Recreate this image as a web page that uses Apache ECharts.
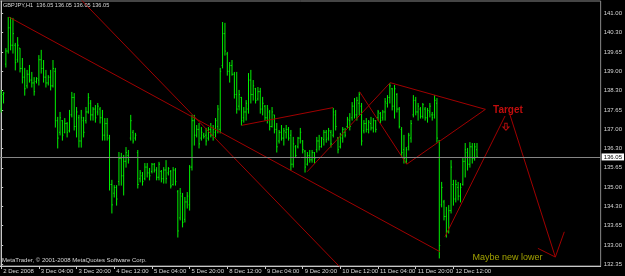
<!DOCTYPE html>
<html><head><meta charset="utf-8">
<script src="https://cdn.jsdelivr.net/npm/echarts@6/dist/echarts.min.js"></script>
<style>html,body{margin:0;padding:0;background:#000;}#c{width:625px;height:276px;}</style>
</head><body><div id="c"></div>
<script>
const headerText = 'GBPJPY,H1  136.05 136.05 136.05 136.05';
const copyrightText = 'MetaTrader, \u00A9 2001-2008 MetaQuotes Software Corp.';
const slotCount = 255;
const xTickEvery = 16;
const xTickLabels = ['2 Dec 2008','3 Dec 04:00','3 Dec 20:00','4 Dec 12:00','5 Dec 04:00','5 Dec 20:00','8 Dec 12:00','9 Dec 04:00','9 Dec 20:00','10 Dec 12:00','11 Dec 04:00','11 Dec 20:00','12 Dec 12:00'];
const yTickValues = [132.35,133.0154,133.6808,134.3462,135.0115,135.6769,136.3423,137.0077,137.6731,138.3385,139.0038,139.6692,140.3346,141.00];
const yTickLabels = ['132.35','133.00','133.65','134.30','135.00','135.65','136.30','137.00','137.65','138.30','139.00','139.65','140.30','141.00'];
const currentPrice = 136.05;

const barHigh = [138.36,138.29,139.80,140.87,140.87,140.84,139.98,140.18,139.80,139.46,
139.12,139.05,139.22,138.98,138.80,138.80,139.56,139.74,139.39,139.05,
138.87,139.05,139.39,139.12,137.43,137.60,137.32,137.39,137.25,137.67,
138.29,138.25,137.77,137.50,137.67,137.43,137.77,138.25,138.01,137.77,
137.84,137.91,137.77,137.67,137.39,137.39,136.81,135.26,135.08,135.08,
136.22,136.19,136.12,136.39,136.29,137.50,136.98,136.88,136.29,135.60,
135.53,135.84,135.84,135.67,135.84,135.84,135.70,135.88,135.60,135.70,
135.94,135.70,135.60,135.70,135.67,134.91,134.98,134.81,134.67,134.84,
135.77,137.50,137.50,137.15,137.22,137.08,136.88,137.05,137.08,137.22,
137.15,137.39,137.84,139.12,140.70,140.67,139.67,139.32,139.39,138.98,
138.98,138.36,138.12,137.77,138.01,138.94,139.05,138.70,138.43,138.46,
138.43,138.12,137.84,137.84,137.67,137.77,137.50,137.22,136.98,137.15,
137.05,137.15,137.08,136.98,136.74,136.46,136.74,137.05,136.63,136.29,
136.22,136.29,136.29,136.22,136.74,136.81,136.74,136.98,136.98,137.05,
136.98,137.74,137.67,136.74,136.88,137.08,137.05,137.43,137.56,137.94,
138.08,138.12,138.29,137.91,137.32,137.39,137.32,137.43,137.39,137.32,
137.67,137.60,137.67,138.08,138.18,138.60,138.43,138.53,138.25,137.77,
137.08,136.81,136.39,136.88,137.32,138.18,138.12,137.91,137.77,137.91,
137.77,137.74,137.91,137.60,138.18,138.08,136.63,135.19,134.57,134.33,
134.39,135.94,135.26,135.26,135.19,135.15,136.01,136.53,136.36,136.56,
136.53,136.53,136.53];

const barLow = [137.60,137.91,139.15,139.63,139.74,139.63,139.05,139.32,138.98,138.60,
138.18,138.43,138.63,138.46,138.18,138.60,138.53,138.94,138.63,138.46,
138.53,138.36,138.46,137.08,136.36,136.81,136.63,136.88,136.74,136.91,
137.43,136.98,136.74,136.39,136.39,136.74,137.22,137.56,137.32,137.32,
137.25,137.50,137.22,136.63,136.63,136.63,134.91,134.12,134.67,134.39,
135.08,135.08,134.74,135.70,135.84,136.63,136.53,136.63,134.98,135.19,
135.08,135.26,135.36,135.26,135.50,135.53,135.26,135.26,135.19,135.15,
135.15,135.43,134.98,135.08,135.08,133.29,133.88,133.64,133.81,134.29,
134.22,135.60,136.46,136.74,136.36,136.63,136.70,136.46,136.63,136.74,
136.63,136.74,136.88,136.88,139.12,139.56,138.87,138.63,138.87,138.08,
137.56,137.67,137.15,137.25,137.32,137.56,137.91,138.01,137.91,138.01,
137.56,137.50,137.32,137.22,136.98,137.08,136.88,136.22,136.53,136.63,
136.46,136.70,136.63,135.60,135.70,136.05,136.36,136.53,136.19,135.53,
135.77,135.87,135.87,135.84,136.22,136.29,136.39,136.46,136.56,136.63,
136.39,136.74,136.98,136.19,136.36,136.56,136.74,137.05,136.98,137.32,
137.39,137.32,137.50,136.46,136.88,136.91,136.88,136.98,136.91,136.91,
137.32,137.22,137.32,137.32,137.77,137.91,137.67,137.39,137.60,137.05,
136.05,135.84,135.84,136.29,136.56,137.43,137.50,137.32,137.39,137.39,
137.32,137.25,137.43,137.32,137.39,136.56,132.57,134.33,133.88,133.29,
133.43,134.12,134.39,134.50,134.57,134.50,135.08,135.36,135.60,135.70,
135.84,135.94,136.05];

const barOpen = [137.70,138.20,139.25,139.70,140.50,139.90,139.90,139.40,139.80,139.10,
138.80,138.50,138.90,138.70,138.60,138.65,138.70,139.40,139.10,138.80,
138.60,138.80,138.50,139.00,137.30,136.90,137.30,136.90,137.20,136.95,
137.50,138.10,137.10,137.40,136.60,137.30,137.30,137.60,137.90,137.50,
137.70,137.60,137.70,137.40,136.80,137.20,136.70,135.10,134.80,135.00,
135.20,136.00,135.40,135.90,136.10,136.70,136.90,136.70,136.20,135.30,
135.40,135.30,135.70,135.50,135.55,135.80,135.60,135.35,135.55,135.30,
135.60,135.50,135.55,135.10,135.60,134.85,133.95,134.70,133.90,134.50,
134.40,135.70,137.30,136.80,137.00,136.70,136.80,136.80,136.70,137.00,
136.80,136.90,137.10,137.00,139.20,140.30,139.60,139.00,139.20,138.90,
138.20,137.80,138.10,137.40,137.60,137.70,138.70,138.20,138.40,138.05,
138.30,137.70,137.80,137.40,137.60,137.10,137.50,137.00,136.60,136.90,
136.70,136.90,137.00,136.80,135.80,136.40,136.40,136.70,136.60,136.25,
135.80,136.10,135.95,136.20,136.30,136.60,136.40,136.65,136.90,136.70,
136.90,136.80,137.50,136.70,136.40,136.70,136.90,137.10,137.30,137.40,
137.80,137.50,137.90,137.80,136.95,137.20,137.00,137.20,137.05,137.30,
137.40,137.55,137.40,137.60,137.90,138.10,138.40,137.80,138.20,137.70,
137.00,136.30,135.90,136.40,136.70,137.50,138.00,137.60,137.70,137.45,
137.70,137.40,137.60,137.50,137.50,137.90,136.60,134.40,134.50,134.00,
133.50,134.20,135.10,134.60,135.00,134.70,135.10,135.90,136.20,135.80,
136.40,136.00,136.30];

const barClose = [138.20,138.25,139.70,140.50,139.90,140.30,139.30,139.90,139.10,138.80,
138.40,138.90,138.70,138.60,138.30,138.75,139.40,139.10,138.80,138.60,
138.80,138.50,139.10,137.30,136.70,137.40,136.80,137.20,136.90,137.50,
138.10,137.10,137.60,136.60,137.40,136.90,137.60,138.10,137.50,137.70,
137.40,137.80,137.40,136.80,137.20,136.80,135.10,134.40,135.00,134.60,
136.00,135.40,135.90,136.20,135.95,137.30,136.60,136.80,135.10,135.50,
135.20,135.70,135.50,135.40,135.80,135.60,135.35,135.80,135.30,135.60,
135.30,135.65,135.05,135.60,135.20,133.50,134.80,133.80,134.50,134.70,
135.70,137.30,136.80,137.00,136.50,136.90,136.75,136.60,137.00,136.80,
137.00,137.30,137.70,139.00,140.30,139.70,139.00,139.20,138.90,138.20,
137.70,138.20,137.30,137.60,137.90,138.70,138.20,138.50,138.00,138.30,
137.70,137.90,137.40,137.70,137.10,137.60,137.00,136.40,136.90,136.70,
136.95,137.00,136.70,135.80,136.50,136.10,136.70,136.90,136.30,135.70,
136.10,135.95,136.20,136.00,136.60,136.40,136.70,136.90,136.65,136.95,
136.50,137.60,137.10,136.30,136.80,137.00,136.80,137.35,137.10,137.80,
137.50,138.00,138.20,136.60,137.20,137.00,137.25,137.05,137.30,137.00,
137.60,137.30,137.60,137.95,138.10,138.50,137.80,138.40,137.70,137.10,
136.20,136.00,136.30,136.80,137.20,138.00,137.60,137.80,137.45,137.85,
137.40,137.65,137.80,137.40,138.00,136.70,133.00,135.00,134.00,133.50,
134.20,135.70,134.60,135.10,134.70,135.00,135.90,136.30,135.80,136.40,
136.00,136.40,136.05];

// hand-drawn trend lines: [startBarIndex, startPrice, endBarIndex, endPrice]
const trendLines = [
  [3.31,140.87,186.29,132.785],
  [34.0,141.46,147.0,131.99],
  [102.14,137.14,140.87,137.75],
  [129.88,135.54,165.15,138.61],
  [152.16,138.30,172.17,135.80],
  [172.17,135.80,205.57,137.69],
  [165.15,138.61,205.57,137.69],
  [188.41,133.30,213.90,137.46],
  [215.81,137.55,235.26,132.60],
  [227.86,132.90,235.26,132.60],
  [235.26,132.60,239.07,133.47]
];
const noteTexts = ['Target','Maybe new lower'];
const noteIdx = [208.6,199.9];
const notePrice = [137.66,132.60];
const noteColors = ['#f01010','#c8c800'];
const noteSizes = [10,9];
const noteWeights = ['bold','normal'];
const arrowIdx = 214.3;
const arrowPrice = 137.09;

const FONT = 'Liberation Sans, Arial, sans-serif';
const bars = barHigh.map((h, i) => [i, barOpen[i], h, barLow[i], barClose[i]]);
const categories = Array.from({length: slotCount}, (_, i) => String(i));
const isTick = (idx) => idx % xTickEvery === 0 && idx / xTickEvery < xTickLabels.length;

const series = [{
  type: 'custom',
  xAxisIndex: 0, yAxisIndex: 0,
  clip: true,
  data: bars,
  encode: {x: 0, y: [1, 2, 3, 4]},
  renderItem: function (params, api) {
    const i = api.value(0);
    const pO = api.coord([i, api.value(1)]);
    const pH = api.coord([i, api.value(2)]);
    const pL = api.coord([i, api.value(3)]);
    const pC = api.coord([i, api.value(4)]);
    const x = pH[0];
    const st = {stroke: '#00f000', lineWidth: 1};
    return {type: 'group', children: [
      {type: 'line', shape: {x1: x, y1: pH[1], x2: x, y2: pL[1] + 0.5}, style: st},
      {type: 'line', shape: {x1: x - 0.9, y1: pO[1], x2: x, y2: pO[1]}, style: st},
      {type: 'line', shape: {x1: x, y1: pC[1], x2: x + 0.9, y2: pC[1]}, style: st}
    ]};
  },
  markLine: {
    silent: true, symbol: 'none', animation: false,
    lineStyle: {color: '#858585', type: 'solid', width: 1},
    label: {show: true, position: 'end', distance: 1, formatter: currentPrice.toFixed(2),
      backgroundColor: '#ffffff', color: '#000000', fontSize: 6, fontFamily: FONT,
      padding: [1, 2, 0, 2], lineHeight: 6},
    data: [{yAxis: currentPrice}]
  }
}];

trendLines.forEach(t => {
  series.push({
    type: 'line', xAxisIndex: 1, yAxisIndex: 0, clip: true,
    data: [[t[0], t[1]], [t[2], t[3]]],
    symbol: 'none', silent: true,
    lineStyle: {color: '#a00000', width: 1}
  });
});

noteTexts.forEach((txt, k) => {
  series.push({
    type: 'scatter', xAxisIndex: 1, yAxisIndex: 0,
    data: [[noteIdx[k], notePrice[k]]],
    symbolSize: 1, itemStyle: {color: 'transparent'}, silent: true,
    label: {show: true, position: 'right', distance: 0, formatter: txt,
      color: noteColors[k], fontSize: noteSizes[k], fontWeight: noteWeights[k], fontFamily: FONT}
  });
});

series.push({
  type: 'scatter', xAxisIndex: 1, yAxisIndex: 0,
  data: [[arrowIdx, arrowPrice]],
  symbol: 'path://M3,0 L7,0 L7,6 L10,6 L5,11 L0,6 L3,6 Z',
  symbolSize: [6, 7], silent: true,
  itemStyle: {color: 'transparent', borderColor: '#e01010', borderWidth: 1}
});

const chart = echarts.init(document.getElementById('c'), null, {renderer: 'canvas'});
chart.setOption({
  backgroundColor: '#000000',
  animation: false,
  title: [
    {text: headerText, left: 3, top: 2, padding: 0,
     textStyle: {color: '#d8d8d8', fontSize: 5.6, fontWeight: 'normal', fontFamily: FONT}},
    {text: copyrightText, left: 2, top: 257.5, padding: 0,
     textStyle: {color: '#d8d8d8', fontSize: 6, fontWeight: 'normal', fontFamily: FONT}}
  ],
  grid: {left: 0, right: 22, top: 1, bottom: 10, show: true, borderColor: '#8a8a8a', borderWidth: 1, backgroundColor: 'transparent'},
  xAxis: [{
    type: 'category', data: categories, boundaryGap: true,
    axisLine: {show: true, lineStyle: {color: '#c8c8c8', width: 1}},
    axisTick: {show: true, alignWithLabel: true, length: 3, interval: (idx) => isTick(idx), lineStyle: {color: '#c8c8c8'}},
    axisLabel: {show: true, interval: (idx) => isTick(idx), align: 'left', margin: 2, padding: [0, 0, 0, 2],
      color: '#d8d8d8', fontSize: 6, fontFamily: FONT,
      formatter: (v) => { const i = +v; return isTick(i) ? xTickLabels[i / xTickEvery] : ''; }},
    splitLine: {show: false}
  }, {
    type: 'value', min: -0.5, max: slotCount - 0.5, show: false
  }],
  yAxis: [{
    type: 'value', position: 'right', min: 132.292, max: 141.424, scale: true,
    splitLine: {show: false},
    axisLine: {show: true, lineStyle: {color: '#c8c8c8', width: 1}},
    axisTick: {show: true, length: 2, customValues: yTickValues, lineStyle: {color: '#c8c8c8'}},
    axisLabel: {show: true, customValues: yTickValues, margin: 3, color: '#d8d8d8', fontSize: 6, fontFamily: FONT,
      formatter: (v) => { let best = 0; yTickValues.forEach((t, k) => { if (Math.abs(t - v) < Math.abs(yTickValues[best] - v)) best = k; }); return yTickLabels[best]; }}
  }],
  series: series
});
</script></body></html>
